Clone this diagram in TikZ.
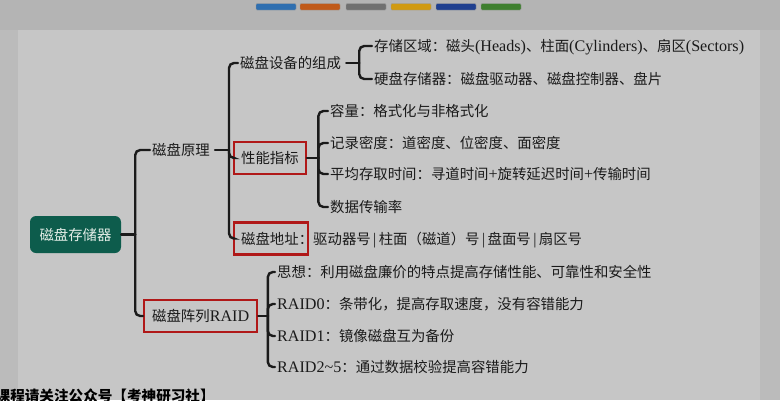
\documentclass[tikz,border=0pt]{standalone}
\usepackage{fontspec}
\setmainfont{Noto Sans CJK SC}
\newfontfamily\lat[Scale=1.12]{Liberation Serif}
\newcommand{\la}[1]{{\lat #1}}
\definecolor{bgtop}{HTML}{B4B4B4}
\definecolor{bgside}{HTML}{BBBBBB}
\definecolor{panel}{HTML}{C6C6C6}
\definecolor{rootgreen}{HTML}{0D5C4C}
\definecolor{roottext}{HTML}{E4EEE8}
\definecolor{boxred}{HTML}{B01818}
\definecolor{ink}{HTML}{1A1A1A}
\definecolor{barA}{HTML}{2F6FB0}
\definecolor{barB}{HTML}{C05A1A}
\definecolor{barC}{HTML}{707070}
\definecolor{barD}{HTML}{D09A12}
\definecolor{barE}{HTML}{1F3F8F}
\definecolor{barF}{HTML}{3F7F2F}
\tikzset{
  conn/.style={line width=2.4pt, draw=ink, line cap=round},
  br/.style={conn, rounded corners=5pt},
  leaf/.style={anchor=west, inner xsep=2pt, inner ysep=0pt, text height=12.5pt, text depth=1.5pt,
    font=\fontsize{14.4}{17}\selectfont, text=ink},
  redbox/.style={leaf, draw=boxred, line width=2.3pt, inner xsep=7pt, minimum height=32pt},
  rootbox/.style={fill=rootgreen, text=roottext, rounded corners=6pt, minimum width=91pt,
    minimum height=37pt, inner sep=0pt, text height=12.5pt, text depth=1.5pt,
    font=\fontsize{14.4}{17}\selectfont},
  topbar/.style={rounded corners=1pt, draw=black!40, line width=0.4pt}
}
\begin{document}
\begin{tikzpicture}[x=1pt,y=-1pt]
\useasboundingbox (0,0) rectangle (780,400);
\clip (0,0) rectangle (780,400);
% background
\fill[bgtop] (0,0) rectangle (780,400);
\fill[bgside] (0,30) rectangle (780,400);
\fill[panel] (18,30) rectangle (760,400);
% top colour bars
\fill[topbar, fill=barA] (256,3.5) rectangle (296,10);
\fill[topbar, fill=barB] (300,3.5) rectangle (340,10);
\fill[topbar, fill=barC] (346,3.5) rectangle (386,10);
\fill[topbar, fill=barD] (391,3.5) rectangle (431,10);
\fill[topbar, fill=barE] (436,3.5) rectangle (476,10);
\fill[topbar, fill=barF] (481,3.5) rectangle (521,10);

% nodes
\node[rootbox] (root) at (75.5,234.5) {磁盘存储器};
\node[leaf] (n1) at (150,150) {磁盘原理};
\node[redbox, inner xsep=8pt] (n2) at (143,316) {磁盘阵列\la{RAID}};

\node[leaf] (n11) at (238,63) {磁盘设备的组成};
\node[redbox] (n12) at (233,158) {性能指标};
\node[redbox, inner xsep=0pt] (n13) at (233,238.5) {\hspace{7pt}磁盘地址\makebox[9pt][l]{：}};
\node[leaf, inner xsep=0pt] (addr) at (313,239) {驱动器号\,\la{|}\,柱面（磁道）号\,\la{|}\,盘面号\,\la{|}\,扇区号};

\node[leaf] (n111) at (372,46) {存储区域：磁头\la{(Heads)}、柱面\la{(Cylinders)}、扇区\la{(Sectors)}};
\node[leaf] (n112) at (372,79) {硬盘存储器：磁盘驱动器、磁盘控制器、盘片};

\node[leaf] (n121) at (328,111) {容量：格式化与非格式化};
\node[leaf] (n122) at (328,143) {记录密度：道密度、位密度、面密度};
\node[leaf] (n123) at (328,174) {平均存取时间：寻道时间\la{+}旋转延迟时间\la{+}传输时间};
\node[leaf] (n124) at (328,207) {数据传输率};

\node[leaf] (n21) at (275,272) {思想：利用磁盘廉价的特点提高存储性能、可靠性和安全性};
\node[leaf] (n22) at (275,304) {\la{RAID0}：条带化，提高存取速度，没有容错能力};
\node[leaf] (n23) at (275,336) {\la{RAID1}：镜像磁盘互为备份};
\node[leaf] (n24) at (275,367) {\la{RAID2\textasciitilde5}：通过数据校验提高容错能力};

% junctions
\path (root.east) ++(14,0) coordinate (j1);
\path (n1.east) ++(17,0) coordinate (j2);
\path (n11.east) ++(16,0) coordinate (j3);
\path (n12.east) ++(11.5,0) coordinate (j4);
\path (n2.east) ++(9.5,0) coordinate (j5);

% connectors
\draw[conn] (root.east) -- (j1);
\draw[br] (j1) |- (n1.west);
\draw[br] (j1) |- (n2.west);

\draw[conn, shorten <=3pt] (n1.east) -- (j2);
\draw[br] (j2) |- (n11.west);
\draw[br] (j2) |- (n12.west);
\draw[br] (j2) |- (n13.west);

\draw[conn, shorten <=3pt] (n11.east) -- (j3);
\draw[br] (j3) |- (n111.west);
\draw[br] (j3) |- (n112.west);

\draw[conn] (n12.east) -- (j4);
\draw[br] (j4) |- (n121.west);
\draw[br] (j4) |- (n122.west);
\draw[br] (j4) |- (n123.west);
\draw[br] (j4) |- (n124.west);

\draw[conn] (n2.east) -- (j5);
\draw[br] (j5) |- (n21.west);
\draw[br] (j5) |- (n22.west);
\draw[br] (j5) |- (n23.west);
\draw[br] (j5) |- (n24.west);

% bottom caption (cut by the frame, as in the reference)
\node[anchor=base west, inner sep=0pt, font=\fontsize{14.6}{17}\selectfont\bfseries, text=black] (cap) at (-4.5,401.5) {课程请关注公众号【考神研习社】};
\end{tikzpicture}
\end{document}
